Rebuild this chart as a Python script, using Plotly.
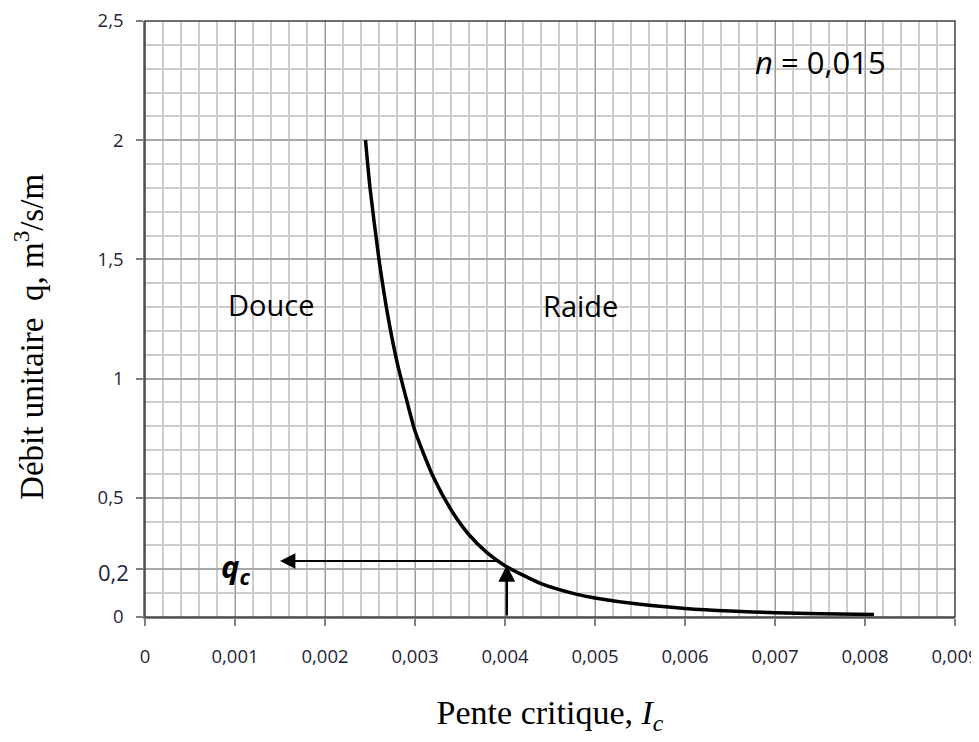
import plotly.graph_objects as go

# Data
slope_ic = [0.00245, 0.0025, 0.0026, 0.0027, 0.0028, 0.0029, 0.0030, 0.0032, 0.0034,
            0.0036, 0.0038, 0.0040, 0.0044, 0.0048, 0.0050, 0.0055, 0.0060, 0.0065,
            0.0070, 0.0075, 0.0081]
flow_q = [2.00, 1.80, 1.50, 1.26, 1.07, 0.92, 0.78, 0.59, 0.45,
          0.345, 0.27, 0.215, 0.14, 0.095, 0.08, 0.053, 0.036, 0.025,
          0.018, 0.014, 0.011]

x_tickvals = [0, 0.001, 0.002, 0.003, 0.004, 0.005, 0.006, 0.007, 0.008, 0.009]
x_ticktext = ["0", "0,001", "0,002", "0,003", "0,004", "0,005", "0,006", "0,007", "0,008", "0,009"]
y_tickvals = [0, 0.2, 0.5, 1, 1.5, 2, 2.5]
y_ticktext = ["0", "", "0,5", "1", "1,5", "2", "2,5"]
qc_tick_value = 0.2
qc_tick_text = "0,2"

# critical point
ic_crit = 0.00402
qc_crit = 0.235
qc_arrow_end = 0.0015

fig = go.Figure()
fig.add_trace(go.Scatter(x=slope_ic, y=flow_q, mode="lines",
                         line=dict(color="black", width=3.5, shape="spline", smoothing=0.6),
                         showlegend=False, hoverinfo="skip"))

tick_font = dict(family="Open Sans, Liberation Sans, sans-serif", size=18.5, color="#1f2538")

fig.update_xaxes(range=[0, 0.009], tickvals=x_tickvals, ticktext=x_ticktext, automargin=False,
                 showgrid=True, gridcolor="#9a9a9a", gridwidth=1,
                 minor=dict(dtick=0.0002, showgrid=True, gridcolor="#cccccc", gridwidth=1.5),
                 showline=True, linecolor="#808080", linewidth=1.5, mirror=False,
                 ticks="outside", ticklen=7, tickcolor="#808080", tickwidth=1.5,
                 ticklabelstandoff=15, ticklabeloverflow="allow",
                 tickfont=tick_font, zeroline=False,
                 title=dict(text="Pente critique, <i>I<sub>c</sub></i>", standoff=33,
                            font=dict(family="Liberation Serif, serif", size=34, color="black")))
fig.update_yaxes(range=[0, 2.5], tickvals=y_tickvals, ticktext=y_ticktext, automargin=False,
                 showgrid=True, gridcolor="#a8a8a8", gridwidth=1.5,
                 minor=dict(dtick=0.1, showgrid=True, gridcolor="#cccccc", gridwidth=1.5),
                 showline=True, linecolor="#808080", linewidth=1.5,
                 ticks="outside", ticklen=7, tickcolor="#808080", tickwidth=1.5,
                 ticklabelstandoff=9, ticklabeloverflow="allow",
                 tickfont=tick_font, zeroline=False)

# y axis title (placed slightly below centre as in the reference)
fig.add_annotation(xref="paper", yref="paper", x=0, y=0.47, xanchor="center", yanchor="middle",
                   xshift=-116, textangle=-90, showarrow=False,
                   text="Débit unitaire  q, m<sup>3</sup>/s/m",
                   font=dict(family="Liberation Serif, serif", size=33, color="black"))

# larger 0,2 tick label
fig.add_annotation(xref="paper", yref="y", x=0, y=qc_tick_value, xanchor="right", yanchor="middle",
                   xshift=-14, yshift=-3, showarrow=False, text=qc_tick_text,
                   font=dict(family="Open Sans, Liberation Sans, sans-serif", size=22, color="#1f2538"))

# top and right border
fig.add_shape(type="rect", xref="paper", yref="paper", x0=0, y0=0, x1=1, y1=1,
              line=dict(color="#404040", width=1.5), layer="above")

label_font = dict(family="Open Sans, Liberation Sans, sans-serif", size=29, color="black")
fig.add_annotation(x=0.00140, y=1.31, text="Douce", showarrow=False, font=label_font)
fig.add_annotation(x=0.00484, y=1.305, text="Raide", showarrow=False, font=label_font)
fig.add_annotation(x=0.00750, y=2.33, text="<i>n</i> = 0,015", showarrow=False,
                   font=dict(family="Open Sans, Liberation Sans, sans-serif", size=31, color="black"))
fig.add_annotation(x=0.00100, y=0.205, text="<b><i>q<sub>c</sub></i></b>", showarrow=False,
                   font=dict(family="Open Sans, Liberation Sans, sans-serif", size=31, color="black"))

# arrows
fig.add_annotation(x=qc_arrow_end, y=qc_crit, ax=0.00392, ay=qc_crit,
                   xref="x", yref="y", axref="x", ayref="y", text="",
                   showarrow=True, arrowhead=2, arrowsize=1.4, arrowwidth=2.2, arrowcolor="black")
fig.add_annotation(x=ic_crit, y=0.218, ax=ic_crit, ay=0,
                   xref="x", yref="y", axref="x", ayref="y", text="",
                   showarrow=True, arrowhead=2, arrowsize=1.4, arrowwidth=2.4, arrowcolor="black")

fig.update_layout(width=979, height=742, margin=dict(l=137, r=32, t=13, b=133),
                  plot_bgcolor="white", paper_bgcolor="white", showlegend=False)

fig.write_html("out.html")
